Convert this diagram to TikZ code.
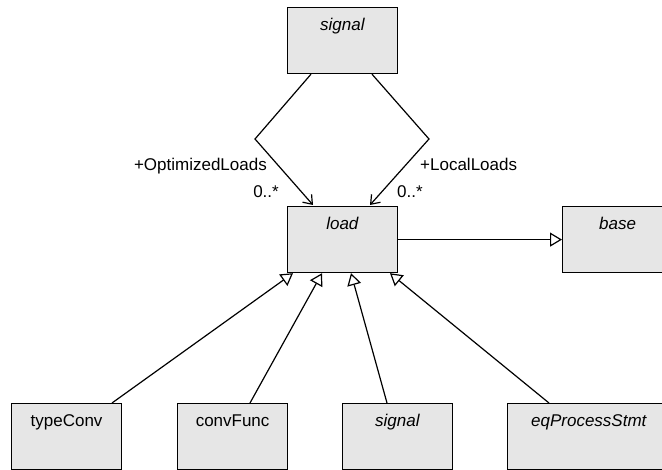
\documentclass[tikz,border=0pt]{standalone}
\usepackage{fontspec}
\setmainfont{Liberation Sans}
\usetikzlibrary{arrows.meta}
\definecolor{boxfill}{RGB}{230,230,230}
\tikzset{
  umlbox/.style={draw, line width=1.2pt, fill=boxfill, rectangle, anchor=north west,
    minimum width=110pt, minimum height=66pt, inner sep=0pt},
  boxlabel/.style={label={[anchor=base, yshift=-24pt, label distance=0pt, inner sep=0pt,
    font=\fontsize{17}{20}\selectfont]north:{#1}}},
  gen/.style={line width=1.2pt, -{Triangle[open, length=12pt, width=14pt, fill=white]}},
  assoc/.style={line width=1.2pt, -{Straight Barb[length=8pt, width=12pt]}},
  lbl/.style={inner sep=0pt, font=\fontsize{17}{20}\selectfont},
}
\begin{document}
\begin{tikzpicture}[x=1pt, y=-1pt]
\useasboundingbox (0,0) rectangle (662,470);
\node[umlbox, boxlabel={\textit{signal}}] (sigtop) at (287,7) {};
\node[umlbox, boxlabel={\textit{load}}] (load) at (287,206) {};
\node[umlbox, boxlabel={\textit{base}}] (base) at (562,206) {};
\node[umlbox, boxlabel={typeConv}] (tc) at (11,403) {};
\node[umlbox, boxlabel={convFunc}] (cf) at (177,403) {};
\node[umlbox, boxlabel={\textit{signal}}] (sigbot) at (342,403) {};
\node[umlbox, minimum width=163pt, boxlabel={\textit{eqProcessStmt}}] (eq) at (507,403) {};

\coordinate (bl) at (255,139);
\coordinate (br) at (429,139);
\draw[assoc, line join=miter] ([xshift=24pt]sigtop.south west) -- (bl) -- ([xshift=26pt,yshift=1pt]load.north west);
\draw[assoc, line join=miter] ([xshift=85pt]sigtop.south west) -- (br) -- ([xshift=83pt,yshift=1pt]load.north west);

\node[lbl, anchor=base east] (optl) at (267,171) {+OptimizedLoads};
\node[lbl, anchor=base east] (optm) at (279,198) {0..*};
\node[lbl, anchor=base west] (locl) at (420,171) {+LocalLoads};
\node[lbl, anchor=base west] (locm) at (397,198) {0..*};

\draw[gen] (load.east) -- (base.west);
\draw[gen] ([xshift=101pt]tc.north west) -- ([xshift=6pt]load.south west);
\draw[gen] ([xshift=73pt]cf.north west) -- ([xshift=35pt]load.south west);
\draw[gen] ([xshift=45pt]sigbot.north west) -- ([xshift=64pt]load.south west);
\draw[gen] ([xshift=42pt]eq.north west) -- ([xshift=103pt]load.south west);
\end{tikzpicture}
\end{document}
